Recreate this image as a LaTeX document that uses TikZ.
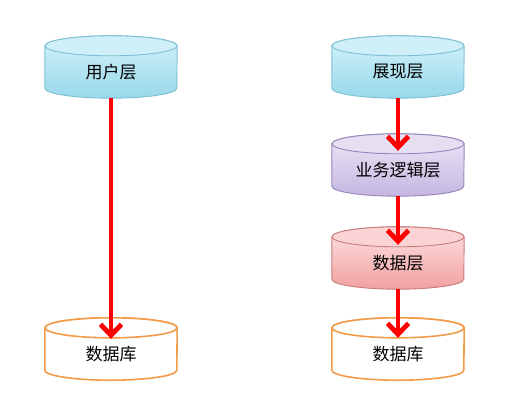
\documentclass[tikz,border=0pt]{standalone}
\usepackage{fontspec}
\newfontfamily\cjk{Noto Sans CJK SC}
\usetikzlibrary{arrows.meta,backgrounds}
\definecolor{blueT}{HTML}{D4F3FB}
\definecolor{blueB}{HTML}{98D8EA}
\definecolor{blueE}{HTML}{CFF0F8}
\definecolor{blueL}{HTML}{7DBFD4}
\definecolor{purT}{HTML}{EEE8F7}
\definecolor{purB}{HTML}{C4B6E0}
\definecolor{purE}{HTML}{E6DFF2}
\definecolor{purL}{HTML}{9585BC}
\definecolor{redT}{HTML}{FDE2E2}
\definecolor{redB}{HTML}{F2A0A0}
\definecolor{redE}{HTML}{FAD4D4}
\definecolor{redL}{HTML}{C97B7B}
\definecolor{orgL}{HTML}{F29B4B}
\tikzset{
  layer/.style={minimum width=132pt, minimum height=52pt, inner sep=0pt,
    font=\cjk\fontsize{17}{20}\selectfont, text=black},
  flow/.style={draw=red, line width=4.8pt, -{Straight Barb[length=11pt,width=21pt]}},
  blueline/.style={draw=blueL, line width=0.9pt},
  purline/.style={draw=purL, line width=0.9pt},
  redline/.style={draw=redL, line width=0.9pt},
  orgline/.style={draw=orgL, line width=1.6pt},
}
\newcommand\drawcyl[5]{%
  \draw[#5, top color=#2, bottom color=#3] (#1.north west) -- ([yshift=10pt]#1.south west)
    arc[start angle=180, end angle=360, x radius=66pt, y radius=10pt] -- (#1.north east)
    arc[start angle=0, end angle=180, x radius=66pt, y radius=10pt] -- cycle;
  \draw[#5, fill=#4] (#1.north) ellipse[x radius=66pt, y radius=10pt];
}
\begin{document}
\begin{tikzpicture}[x=1pt, y=-1pt]
  \useasboundingbox (0,0) rectangle (529,419);
  \node[layer] (user) at (111,72) {用户层};
  \node[layer] (db1)  at (111,354) {数据库};
  \node[layer] (pres) at (398,72) {展现层};
  \node[layer] (biz)  at (398,170) {业务逻辑层};
  \node[layer] (data) at (398,263) {数据层};
  \node[layer] (db2)  at (398,354) {数据库};
  \begin{scope}[on background layer]
    \drawcyl{user}{blueT}{blueB}{blueE}{blueline}
    \drawcyl{pres}{blueT}{blueB}{blueE}{blueline}
    \drawcyl{biz}{purT}{purB}{purE}{purline}
    \drawcyl{data}{redT}{redB}{redE}{redline}
    \drawcyl{db1}{white}{white}{white}{orgline}
    \drawcyl{db2}{white}{white}{white}{orgline}
  \end{scope}
  \draw[flow] (user.south) -- ([yshift=-11pt]db1.north);
  \draw[flow] (pres.south) -- ([yshift=-7pt]biz.north);
  \draw[flow] (biz.south) -- ([yshift=-8pt]data.north);
  \draw[flow] (data.south) -- ([yshift=-10pt]db2.north);
\end{tikzpicture}
\end{document}
